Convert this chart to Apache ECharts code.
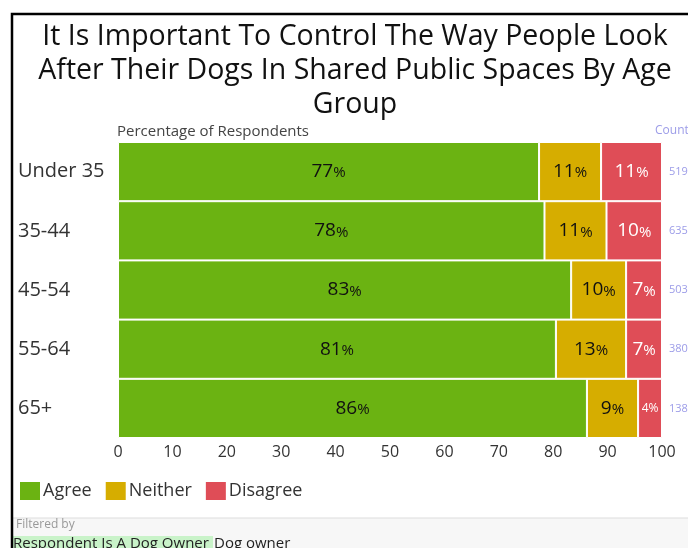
<!DOCTYPE html>
<html><head><meta charset="utf-8">
<script src="https://cdn.jsdelivr.net/npm/echarts@6/dist/echarts.min.js"></script>
<style>html,body{margin:0;padding:0;background:#fff}#c{width:688px;height:548px}</style>
</head><body><div id="c"></div>
<script>
const categories = ['Under 35', '35-44', '45-54', '55-64', '65+'];
const agree = [77.4, 78.4, 83.3, 80.5, 86.2];
const neither = [11.4, 11.4, 10.1, 12.9, 9.4];
const disagree = [11.2, 10.2, 6.6, 6.6, 4.4];
const counts = ['519', '635', '503', '380', '138'];
const xTicks = [0, 10, 20, 30, 40, 50, 60, 70, 80, 90, 100];

const FONT = '"Open Sans", "Noto Sans", sans-serif';
const chart = echarts.init(document.getElementById('c'), null, {renderer: 'canvas'});

function lbl(color) {
  return {
    show: true, position: 'inside',
    formatter: p => p.value < 5 ? '{s|' + Math.round(p.value) + '%}' : '{v|' + Math.round(p.value) + '}{p|%}',
    rich: {
      v: {fontSize: 19, color: color, fontFamily: FONT},
      p: {fontSize: 15, color: color, fontFamily: FONT, padding: [3, 0, 0, 0]},
      s: {fontSize: 12, color: color, fontFamily: FONT}
    }
  };
}

const option = {
  animation: false,
  backgroundColor: '#fff',
  textStyle: {fontFamily: FONT},
  title: {
    text: 'It Is Important To Control The Way People Look\nAfter Their Dogs In Shared Public Spaces By Age\nGroup',
    left: 350, textAlign: 'center', top: 15,
    textStyle: {fontSize: 28.5, fontWeight: 'normal', color: '#111', lineHeight: 34, fontFamily: FONT}
  },
  grid: {left: 118, right: 26, top: 142, bottom: 110, outerBoundsMode: 'none', containLabel: false},
  xAxis: {
    type: 'value', min: 0, max: 100, interval: 10,
    axisLine: {show: false}, axisTick: {show: false}, splitLine: {show: false},
    axisLabel: {fontSize: 16, color: '#333', margin: 6, formatter: v => xTicks.includes(v) ? String(v) : ''}
  },
  yAxis: [{
    type: 'category', data: categories, inverse: true,
    axisLine: {show: false}, axisTick: {show: false},
    axisLabel: {fontSize: 20, color: '#333', align: 'left', margin: 100}
  }, {
    type: 'category', data: counts, inverse: true, position: 'right',
    axisLine: {show: false}, axisTick: {show: false},
    axisLabel: {fontSize: 11, color: '#9c9ce8', align: 'left', margin: 7}
  }],
  legend: {
    left: 13, top: 475, itemWidth: 22, itemHeight: 20, itemGap: 12, icon: 'rect',
    textStyle: {fontSize: 18, color: '#333', padding: [0, 0, 0, -3]},
    data: ['Agree', 'Neither', 'Disagree']
  },
  series: [
    {name: 'Agree', type: 'bar', stack: 's', data: agree, barCategoryGap: 0,
     itemStyle: {color: '#6bb312', borderColor: '#fff', borderWidth: 1}, label: lbl('#111')},
    {name: 'Neither', type: 'bar', stack: 's', data: neither, barCategoryGap: 0,
     itemStyle: {color: '#d6ad00', borderColor: '#fff', borderWidth: 1}, label: lbl('#111')},
    {name: 'Disagree', type: 'bar', stack: 's', data: disagree, barCategoryGap: 0,
     itemStyle: {color: '#df4d57', borderColor: '#fff', borderWidth: 1}, label: lbl('#fff')}
  ],
  graphic: [
    {type: 'rect', shape: {x: 12, y: 518, width: 676, height: 30}, style: {fill: '#f7f7f7'}},
    {type: 'line', shape: {x1: 12, y1: 518, x2: 688, y2: 518}, style: {stroke: '#ddd', lineWidth: 1}},
    {type: 'rect', shape: {x: 13, y: 536, width: 200, height: 12}, style: {fill: '#c9f3c9'}},
    {type: 'text', x: 16, y: 519, style: {text: 'Filtered by', fontSize: 12, fill: '#999', fontFamily: FONT}},
    {type: 'text', x: 13, y: 536, style: {text: 'Respondent Is A Dog Owner', fontSize: 15, fill: '#222', fontFamily: FONT}},
    {type: 'text', x: 214, y: 536, style: {text: 'Dog owner', fontSize: 15, fill: '#222', fontFamily: FONT}},
    {type: 'text', x: 117, y: 124, style: {text: 'Percentage of Respondents', fontSize: 15, fill: '#444', fontFamily: FONT}},
    {type: 'text', x: 655, y: 125, style: {text: 'Count', fontSize: 12, fill: '#9c9ce8', fontFamily: FONT}},
    {type: 'polyline', shape: {points: [[12, 548], [12, 14], [688, 14]]}, style: {stroke: '#000', lineWidth: 2.5, fill: null}}
  ]
};
chart.setOption(option);
</script></body></html>
